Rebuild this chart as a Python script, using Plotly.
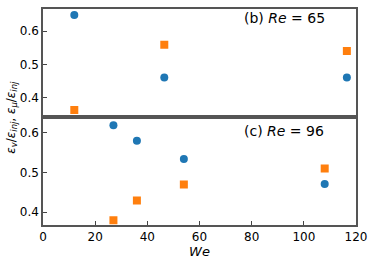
import plotly.graph_objects as go

# Panel (b) Re = 65
we_b = [12, 46.5, 116.5]
ev_b = [0.649, 0.460, 0.460]
emu_b = [0.362, 0.559, 0.540]

# Panel (c) Re = 96
we_c = [27, 36, 54, 108]
ev_c = [0.619, 0.580, 0.534, 0.471]
emu_c = [0.380, 0.430, 0.470, 0.510]

x_ticks = [0, 20, 40, 60, 80, 100, 120]
y_ticks = [0.4, 0.5, 0.6]

blue = "#1f77b4"
orange = "#ff7f0e"
font = "DejaVu Sans"

fig = go.Figure()
fig.add_trace(go.Scatter(x=we_b, y=ev_b, mode="markers", xaxis="x", yaxis="y",
                         marker=dict(symbol="circle", size=8, color=blue), showlegend=False))
fig.add_trace(go.Scatter(x=we_b, y=emu_b, mode="markers", xaxis="x", yaxis="y",
                         marker=dict(symbol="square", size=8, color=orange), showlegend=False))
fig.add_trace(go.Scatter(x=we_c, y=ev_c, mode="markers", xaxis="x2", yaxis="y2",
                         marker=dict(symbol="circle", size=8, color=blue), showlegend=False))
fig.add_trace(go.Scatter(x=we_c, y=emu_c, mode="markers", xaxis="x2", yaxis="y2",
                         marker=dict(symbol="square", size=8, color=orange), showlegend=False))

axis_common = dict(showline=True, linecolor="#555", linewidth=1.5, mirror=True,
                   showgrid=False, zeroline=False,
                   tickfont=dict(family=font, size=12, color="black"))

fig.update_layout(
    width=374, height=262,
    margin=dict(l=43, r=18, t=7, b=34),
    paper_bgcolor="white", plot_bgcolor="white",
    xaxis=dict(domain=[0, 1], anchor="y", range=[0, 120], tickvals=x_ticks,
               showticklabels=False, ticks="", **axis_common),
    yaxis=dict(domain=[0.511, 1], anchor="x", range=[0.348, 0.667], tickvals=y_ticks,
               ticktext=[f"{v:.1f}" for v in y_ticks],
               ticks="inside", ticklen=4, tickcolor="#444", **axis_common),
    xaxis2=dict(domain=[0, 1], anchor="y2", range=[0, 120], tickvals=x_ticks,
                ticks="inside", ticklen=4, tickcolor="#444",
                title=dict(text="<i>We</i>", font=dict(family=font, size=13, color="black"), standoff=2),
                **axis_common),
    yaxis2=dict(domain=[0, 0.489], anchor="x2", range=[0.368, 0.634], tickvals=y_ticks,
                ticktext=[f"{v:.1f}" for v in y_ticks],
                ticks="inside", ticklen=4, tickcolor="#444", **axis_common),
    annotations=[
        dict(text="(b) <i>Re</i> = 65", x=0.773, y=0.957, xref="paper", yref="paper",
             xanchor="center", yanchor="middle", showarrow=False,
             font=dict(family=font, size=14, color="black")),
        dict(text="(c) <i>Re</i> = 96", x=0.77, y=0.437, xref="paper", yref="paper",
             xanchor="center", yanchor="middle", showarrow=False,
             font=dict(family=font, size=14, color="black")),
        dict(text="<i>ε</i><sub><i>v</i></sub>/<i>ε</i><sub><i>inj</i></sub>, <i>ε</i><sub><i>μ</i></sub>/<i>ε</i><sub><i>inj</i></sub>",
             x=-0.1, y=0.5, xref="paper", yref="paper", textangle=-90,
             xanchor="center", yanchor="middle", showarrow=False,
             font=dict(family=font, size=12, color="black")),
    ],
)

fig.write_html("out.html", config={"displayModeBar": False},
               post_script="document.body.style.margin='0';document.body.style.overflow='hidden';")
